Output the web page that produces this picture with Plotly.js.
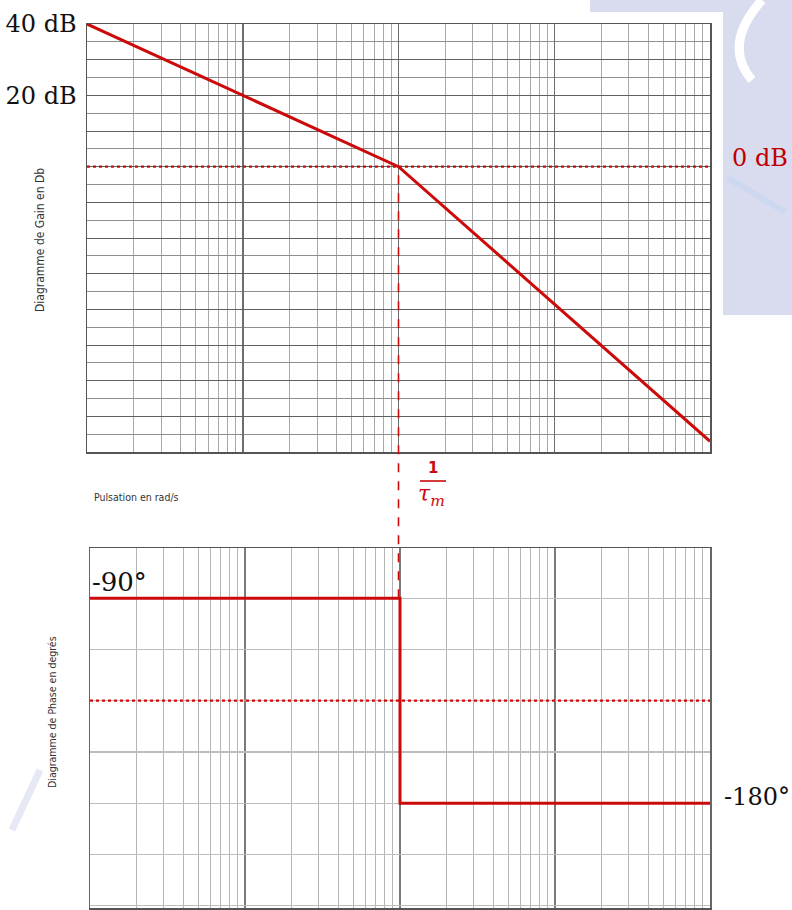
<!DOCTYPE html>
<html>
<head>
<meta charset="utf-8">
<script src="https://cdn.plot.ly/plotly-3.0.1.min.js"></script>
<style>html,body{margin:0;padding:0;background:#fff;}#chart{width:792px;height:910px;}</style>
</head>
<body>
<div id="chart"></div>
<script>
// ---- data ----
const gainOmega = [1, 100, 10000];          // rad/s
const gainDb = [40, 0, -77];                 // asymptotic gain (dB)
const phaseOmega = [1, 100, 100, 10000];     // rad/s
const phaseDeg = [-90, -90, -180, -180];     // asymptotic phase (deg)
const cornerOmega = 100;                     // 1/tau_m
const gainRef = 0;                           // 0 dB reference
const phaseRef = -135;                       // dotted phase reference
const gainTickVals = [40, 20];
const gainTickText = ['40 dB', '20 dB'];
const phaseLabels = ['-90°', '-180°'];
const phaseLabelVals = [-90, -180];

// ---- helpers ----
const W = 792, H = 910;
const px = x => x / W;
const py = y => 1 - y / H;
const red = '#cc0a0a';
const decades = [1, 10, 100, 1000, 10000];
const minorX = [];
for (let d = 0; d < 4; d++) for (let k = 2; k <= 9; k++) minorX.push(k * Math.pow(10, d));

const gainRange = [-80, 40];
const phaseRange = [-226, -68];
const gMajor = [], gMinor = [];
for (let v = -80; v <= 40; v += 10) gMajor.push(v);
for (let v = -75; v <= 40; v += 10) gMinor.push(v);
const pMajor = [];
for (let v = -225; v <= -68; v += 22.5) pMajor.push(v);

const gDom = [py(452), py(24)];
const pDom = [py(908), py(548)];
const toPaperG = v => gDom[0] + (v - gainRange[0]) / (gainRange[1] - gainRange[0]) * (gDom[1] - gDom[0]);
const toPaperP = v => pDom[0] + (v - phaseRange[0]) / (phaseRange[1] - phaseRange[0]) * (pDom[1] - pDom[0]);

const xBase = {
  type: 'log', range: [0, 4], tickmode: 'array', tickvals: decades,
  showticklabels: false, ticks: '', showgrid: true, gridcolor: '#6e6e6e', gridwidth: 1.5,
  minor: {tickmode: 'array', tickvals: minorX, showgrid: true, gridcolor: '#a9a9a9', gridwidth: 1, ticks: ''},
  showline: true, mirror: true, linecolor: '#555', linewidth: 1.5, zeroline: false, fixedrange: true
};

const traces = [
  {x: [gainOmega[0], gainOmega[gainOmega.length - 1]], y: [gainRef, gainRef], xaxis: 'x', yaxis: 'y3',
   mode: 'lines', line: {color: red, width: 2.2, dash: 'dot'}, hoverinfo: 'skip'},
  {x: gainOmega, y: gainDb, xaxis: 'x', yaxis: 'y', mode: 'lines',
   line: {color: red, width: 3}, hoverinfo: 'skip'},
  {x: [phaseOmega[0], phaseOmega[phaseOmega.length - 1]], y: [phaseRef, phaseRef], xaxis: 'x2', yaxis: 'y2',
   mode: 'lines', line: {color: red, width: 2.2, dash: 'dot'}, hoverinfo: 'skip'},
  {x: phaseOmega, y: phaseDeg, xaxis: 'x2', yaxis: 'y2', mode: 'lines',
   line: {color: red, width: 3}, hoverinfo: 'skip'}
];

const serif = 'DejaVu Serif, Liberation Serif, serif';
const cond = 'DejaVu Sans Condensed, Liberation Sans Narrow, sans-serif';

const layout = {
  width: W, height: H, margin: {l: 0, r: 0, t: 0, b: 0},
  paper_bgcolor: '#ffffff', plot_bgcolor: '#ffffff', showlegend: false,
  xaxis: Object.assign({}, xBase, {domain: [px(87), px(710)], anchor: 'y'}),
  yaxis: {domain: gDom, range: gainRange, anchor: 'x', tickmode: 'array', tickvals: gainTickVals, ticktext: gainTickText,
          ticks: '', ticklabelstandoff: 4, tickfont: {family: serif, size: 24, color: '#111'},
          showgrid: true, gridcolor: '#606060', gridwidth: 1,
          showline: true, mirror: true, linecolor: '#555', linewidth: 1.5, zeroline: false, fixedrange: true},
  yaxis3: {overlaying: 'y', side: 'left', range: gainRange, anchor: 'x', tickmode: 'array', tickvals: gMajor,
          showticklabels: false, ticks: '', showgrid: true, gridcolor: '#606060', gridwidth: 1,
          minor: {tickmode: 'array', tickvals: gMinor, showgrid: true, gridcolor: '#8e8e8e', gridwidth: 1, ticks: ''},
          showline: false, zeroline: false, fixedrange: true},
  xaxis2: Object.assign({}, xBase, {domain: [px(90), px(710)], anchor: 'y2', gridcolor: '#7a7a7a',
          minor: {tickmode: 'array', tickvals: minorX, showgrid: true, gridcolor: '#b4b4b4', gridwidth: 1, ticks: ''}}),
  yaxis2: {domain: pDom, range: phaseRange, anchor: 'x2', tickmode: 'array', tickvals: pMajor,
          showticklabels: false, ticks: '', showgrid: true, gridcolor: '#bdbdbd', gridwidth: 1.2,
          showline: true, mirror: true, linecolor: '#666', linewidth: 1.5, zeroline: false, fixedrange: true},
  shapes: [
    // watermark (outside plot areas)
    {type: 'rect', xref: 'paper', yref: 'paper', x0: px(723), x1: 1, y0: py(315), y1: 1,
     fillcolor: '#d9dcef', line: {width: 0}, layer: 'below'},
    {type: 'rect', xref: 'paper', yref: 'paper', x0: px(590), x1: px(723), y0: py(12), y1: 1,
     fillcolor: '#d9dcef', line: {width: 0}, layer: 'below'},
    {type: 'path', xref: 'paper', yref: 'paper', layer: 'below', line: {color: '#ffffff', width: 9},
     path: `M ${px(762)} ${py(0)} Q ${px(722)} ${py(45)} ${px(752)} ${py(80)}`},
    {type: 'path', xref: 'paper', yref: 'paper', layer: 'below', line: {color: '#ccd8f0', width: 6},
     path: `M ${px(728)} ${py(178)} L ${px(785)} ${py(212)}`},
    {type: 'path', xref: 'paper', yref: 'paper', layer: 'below', line: {color: '#e6e8f5', width: 7},
     path: `M ${px(40)} ${py(770)} L ${px(12)} ${py(830)}`},
    // vertical dashed line at 1/tau_m from 0 dB to -90 deg
    {type: 'line', xref: 'x', yref: 'paper', x0: cornerOmega, x1: cornerOmega,
     y0: toPaperP(phaseDeg[0]), y1: toPaperG(gainRef), line: {color: red, width: 1.6, dash: 'dash'}},
    // fraction bar
    {type: 'line', xref: 'paper', yref: 'paper', x0: px(420), x1: px(446), y0: py(481), y1: py(481),
     line: {color: red, width: 1.6}}
  ],
  annotations: [
    {text: '0 dB', xref: 'x domain', x: 1, xanchor: 'left', xshift: 20, yref: 'y', y: gainRef,
     yanchor: 'middle', yshift: 9, showarrow: false, font: {family: serif, size: 24, color: '#c00000'}},
    {text: phaseLabels[0], xref: 'x2 domain', x: 0, xanchor: 'left', xshift: 0, yref: 'y2', y: phaseLabelVals[0],
     yanchor: 'bottom', yshift: -1, showarrow: false, font: {family: serif, size: 26, color: '#111'}},
    {text: phaseLabels[1], xref: 'x2 domain', x: 1, xanchor: 'left', xshift: 12, yref: 'y2', y: phaseLabelVals[1],
     yanchor: 'middle', yshift: 6, showarrow: false, font: {family: serif, size: 24, color: '#111'}},
    {text: '<b>1</b>', xref: 'paper', x: px(433), yref: 'paper', y: py(468), xanchor: 'center', yanchor: 'middle',
     showarrow: false, font: {family: 'DejaVu Sans, sans-serif', size: 15, color: red}},
    {text: '<i>τ<sub>m</sub></i>', xref: 'paper', x: px(432), yref: 'paper', y: py(496), xanchor: 'center', yanchor: 'middle',
     showarrow: false, font: {family: serif, size: 22, color: red}},
    {text: 'Diagramme de Gain en Db', xref: 'paper', x: px(40), yref: 'paper', y: py(240), textangle: -90,
     xanchor: 'center', yanchor: 'middle', showarrow: false, font: {family: cond, size: 12, color: '#333'}},
    {text: 'Diagramme de Phase en degrés', xref: 'paper', x: px(52), yref: 'paper', y: py(712), textangle: -90,
     xanchor: 'center', yanchor: 'middle', showarrow: false, font: {family: cond, size: 10.5, color: '#333'}},
    {text: 'Pulsation en rad/s', xref: 'paper', x: px(92), yref: 'paper', y: py(497), xanchor: 'left',
     yanchor: 'middle', showarrow: false, font: {family: cond, size: 10.5, color: '#333'}}
  ]
};

Plotly.newPlot('chart', traces, layout, {displayModeBar: false, staticPlot: true});
</script>
</body>
</html>
